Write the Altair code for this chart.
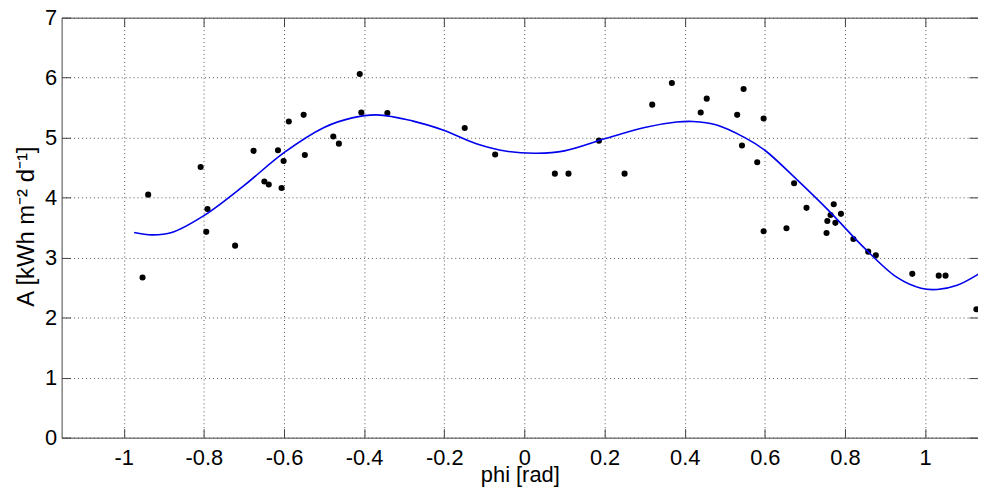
import altair as alt
import pandas as pd

# measured points (phi [rad], A [kWh m-2 d-1])
phi_pts = [-0.953, -0.939, -0.808, -0.794, -0.791, -0.722, -0.676, -0.649, -0.638,
           -0.615, -0.606, -0.601, -0.588, -0.551, -0.548, -0.477, -0.463, -0.411,
           -0.407, -0.342, -0.149, -0.073, 0.076, 0.110, 0.186, 0.250, 0.319, 0.368,
           0.440, 0.455, 0.531, 0.543, 0.547, 0.581, 0.597, 0.597, 0.654, 0.673,
           0.704, 0.754, 0.756, 0.764, 0.772, 0.776, 0.790, 0.821, 0.858, 0.877,
           0.968, 1.034, 1.051, 1.128]
a_pts = [2.67, 4.05, 4.51, 3.43, 3.81, 3.20, 4.78, 4.27, 4.22,
         4.79, 4.16, 4.61, 5.27, 5.38, 4.71, 5.02, 4.90, 6.06,
         5.42, 5.41, 5.16, 4.72, 4.40, 4.40, 4.95, 4.40, 5.55, 5.91,
         5.42, 5.65, 5.38, 4.87, 5.81, 4.59, 5.32, 3.44, 3.49, 4.24,
         3.83, 3.41, 3.61, 3.71, 3.89, 3.58, 3.73, 3.31, 3.10, 3.04,
         2.73, 2.70, 2.70, 2.14]

# fitted curve
phi_fit = [-0.974, -0.93, -0.88, -0.80, -0.70, -0.60, -0.50, -0.43, -0.368,
           -0.28, -0.20, -0.12, -0.04, 0.03, 0.10, 0.20, 0.30, 0.38, 0.42,
           0.48, 0.55, 0.60, 0.68, 0.76, 0.85, 0.93, 0.99, 1.03, 1.08, 1.134]
a_fit = [3.42, 3.38, 3.42, 3.70, 4.20, 4.75, 5.17, 5.33, 5.38,
         5.28, 5.12, 4.90, 4.77, 4.74, 4.78, 4.98, 5.17, 5.26, 5.27,
         5.21, 5.00, 4.79, 4.30, 3.78, 3.15, 2.67, 2.49, 2.47, 2.54, 2.73]

x_ticks = [-1, -0.8, -0.6, -0.4, -0.2, 0, 0.2, 0.4, 0.6, 0.8, 1]
y_ticks = [0, 1, 2, 3, 4, 5, 6, 7]

pts = pd.DataFrame({"phi": phi_pts, "A": a_pts})
fit = pd.DataFrame({"phi": phi_fit, "A": a_fit})

FONT = "Liberation Sans"
xscale = alt.Scale(domain=[-1.155, 1.132], nice=False, zero=False)
yscale = alt.Scale(domain=[0, 7], nice=False)

x_bottom = alt.X("phi:Q", scale=xscale, title="phi [rad]",
                 axis=alt.Axis(orient="bottom", values=x_ticks, labelExpr="toString(datum.value)",
                               offset=-9, tickSize=9, domain=False, grid=True,
                               labelPadding=10, titlePadding=-4))
y_left = alt.Y("A:Q", scale=yscale, title="A [kWh m⁻² d⁻¹]",
               axis=alt.Axis(orient="left", values=y_ticks, offset=-9, tickSize=9,
                             domain=False, grid=True, labelPadding=5, titlePadding=6,
                             titleY=210, titleFontSize=24))

x_top = alt.X("phi:Q", scale=xscale, title=None,
              axis=alt.Axis(orient="top", values=x_ticks, offset=-9, tickSize=9,
                            domain=False, grid=False, labels=False))
y_right = alt.Y("A:Q", scale=yscale, title=None,
                axis=alt.Axis(orient="right", values=y_ticks, offset=-9, tickSize=9,
                              domain=False, grid=False, labels=False))

points = alt.Chart(pts).mark_circle(size=38, color="black", opacity=1).encode(
    x=x_bottom, y=y_left)

line = alt.Chart(fit).mark_line(color="#0000ee", strokeWidth=1.6, clip=True,
                                interpolate="catmull-rom").encode(x=x_top, y=y_right)

chart = alt.layer(points, line).resolve_axis(x="independent", y="independent").properties(
    width=923, height=423,
    autosize=alt.AutoSizeParams(type="none"),
    padding={"left": 54, "top": 8, "right": 0, "bottom": 50},
).configure_view(
    stroke="#444444", strokeWidth=1
).configure_axis(
    labelFont=FONT, titleFont=FONT, labelFontSize=22, titleFontSize=22,
    labelColor="black", titleColor="black", titleFontWeight="normal",
    tickColor="#444444", tickWidth=1,
    gridColor="#555555", gridDash=[1, 3], gridWidth=1, gridOpacity=1,
)

chart.save("out.html", embed_options={"renderer": "svg", "actions": False})
